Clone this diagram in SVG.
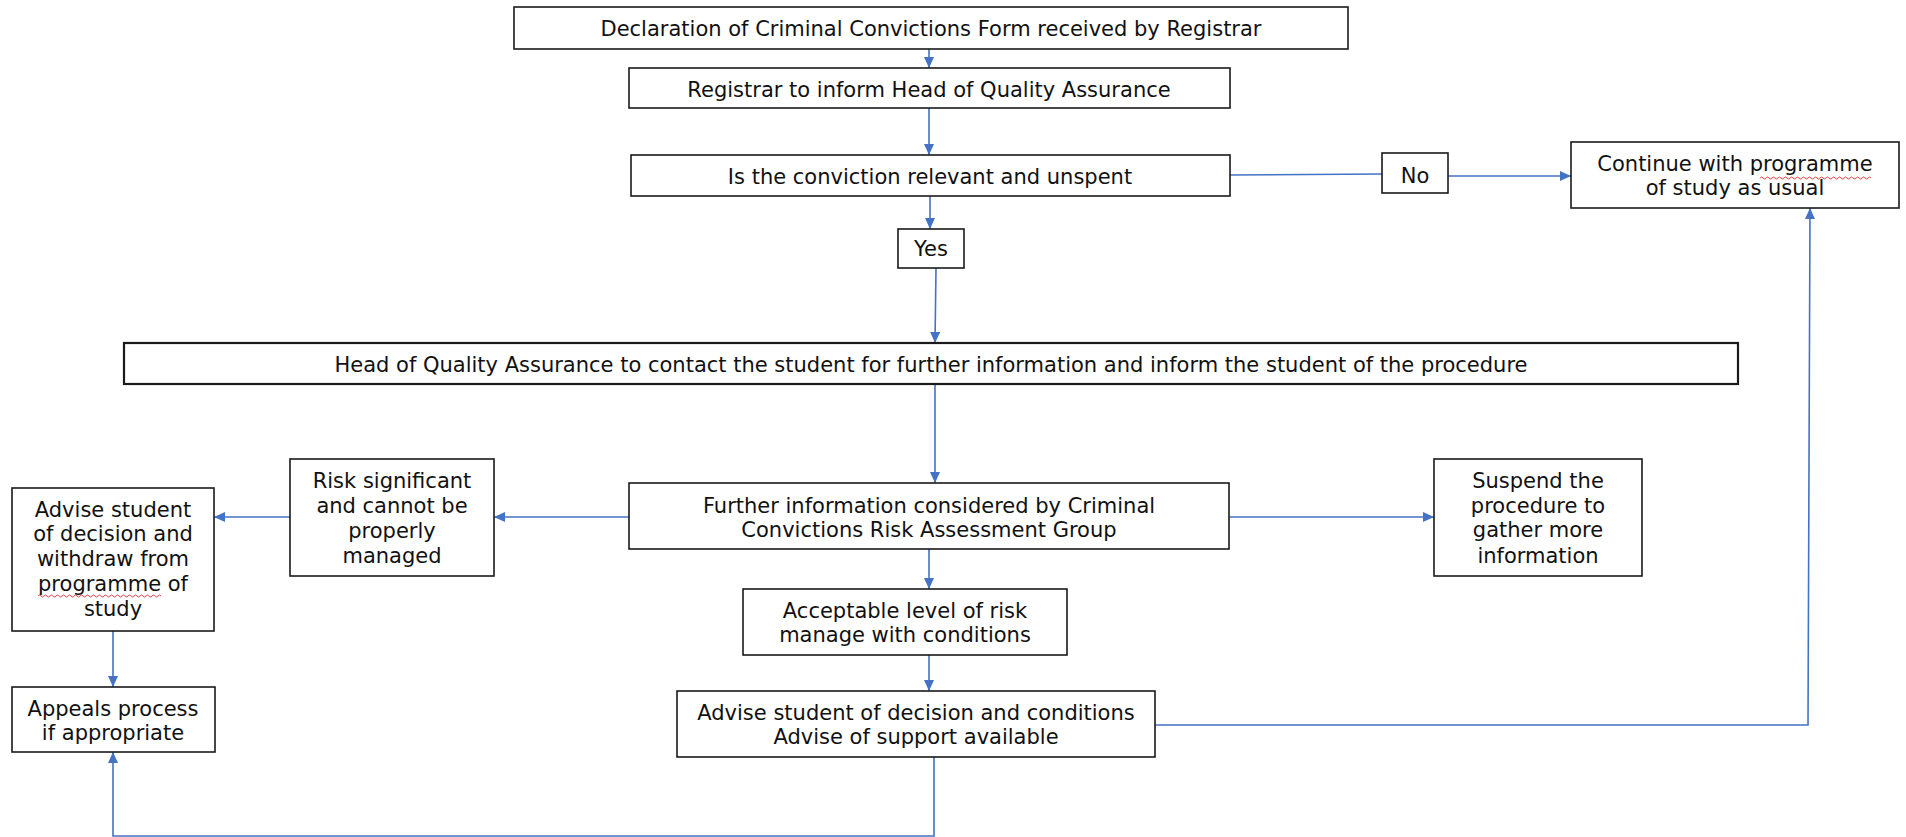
<svg xmlns="http://www.w3.org/2000/svg" width="1906" height="837" viewBox="0 0 1906 837">
<style>
.box{fill:#fff;stroke:#1a1a1a;stroke-width:1.6}
.t{font-family:"DejaVu Sans","Verdana",sans-serif;font-size:21px;fill:#111;text-anchor:middle}
.c{fill:none;stroke:#4472C4;stroke-width:1.6}
.sq{fill:none;stroke:#e03030;stroke-width:0.9}
</style>
<defs>
<marker id="ah" markerUnits="userSpaceOnUse" markerWidth="11" markerHeight="10" refX="11" refY="5" orient="auto">
<path d="M0,0 L11,5 L0,10 z" fill="#4472C4"/>
</marker>
</defs>
<rect width="1906" height="837" fill="#fff"/>
<g id="connectors">
<path class="c" d="M929,49 V68" marker-end="url(#ah)"/>
<path class="c" d="M929,108 V155" marker-end="url(#ah)"/>
<path class="c" d="M930,196 V229" marker-end="url(#ah)"/>
<path class="c" d="M1230,175 L1382,174"/>
<path class="c" d="M1448,176 H1571" marker-end="url(#ah)"/>
<path class="c" d="M936,268 L935,343" marker-end="url(#ah)"/>
<path class="c" d="M935,384 V483" marker-end="url(#ah)"/>
<path class="c" d="M629,517 H494" marker-end="url(#ah)"/>
<path class="c" d="M290,517 H214" marker-end="url(#ah)"/>
<path class="c" d="M1229,517 H1434" marker-end="url(#ah)"/>
<path class="c" d="M929,549 V589" marker-end="url(#ah)"/>
<path class="c" d="M929,655 V691" marker-end="url(#ah)"/>
<path class="c" d="M113,631 V687" marker-end="url(#ah)"/>
<path class="c" d="M1155,725 H1808 L1810,208" marker-end="url(#ah)"/>
<path class="c" d="M934,757 V836 H113 V752" marker-end="url(#ah)"/>
</g>
<g id="n1"><rect class="box" x="514" y="7" width="834" height="42"/><text class="t" x="931" y="35.5">Declaration of Criminal Convictions Form received by Registrar</text></g>
<g id="n2"><rect class="box" x="629" y="68" width="601" height="40"/><text class="t" x="929" y="96.5">Registrar to inform Head of Quality Assurance</text></g>
<g id="n3"><rect class="box" x="631" y="155" width="599" height="41"/><text class="t" x="930" y="183.5">Is the conviction relevant and unspent</text></g>
<g id="yes"><rect class="box" x="898" y="229" width="66" height="39"/><text class="t" x="931" y="255.5">Yes</text></g>
<g id="no"><rect class="box" x="1382" y="153" width="66" height="40"/><text class="t" x="1415" y="182.5">No</text></g>
<g id="n4"><rect class="box" x="1571" y="142" width="328" height="66"/><text class="t" x="1735" y="170.5">Continue with programme</text><text class="t" x="1735" y="194.5">of study as usual</text>
<path class="sq" d="M1760,178 q1.5,-2 3,0 t3,0 t3,0 t3,0 t3,0 t3,0 t3,0 t3,0 t3,0 t3,0 t3,0 t3,0 t3,0 t3,0 t3,0 t3,0 t3,0 t3,0 t3,0 t3,0 t3,0 t3,0 t3,0 t3,0 t3,0 t3,0 t3,0 t3,0 t3,0 t3,0 t3,0 t3,0 t3,0 t3,0 t3,0 t3,0 t3,0"/></g>
<g id="n5"><rect class="box" x="124" y="343" width="1614" height="41" style="stroke-width:2.2"/><text class="t" x="931" y="371.5">Head of Quality Assurance to contact the student for further information and inform the student of the procedure</text></g>
<g id="n6"><rect class="box" x="629" y="483" width="600" height="66"/><text class="t" x="929" y="512.5">Further information considered by Criminal</text><text class="t" x="929" y="536.5">Convictions Risk Assessment Group</text></g>
<g id="n7"><rect class="box" x="290" y="459" width="204" height="117"/><text class="t" x="392" y="487.5">Risk significant</text><text class="t" x="392" y="512.5">and cannot be</text><text class="t" x="392" y="537.5">properly</text><text class="t" x="392" y="562.5">managed</text></g>
<g id="n8"><rect class="box" x="12" y="488" width="202" height="143"/><text class="t" x="113" y="516.5">Advise student</text><text class="t" x="113" y="540.5">of decision and</text><text class="t" x="113" y="565.5">withdraw from</text><text class="t" x="113" y="590.5">programme of</text><text class="t" x="113" y="615.5">study</text>
<path class="sq" d="M38,596 q1.5,-2 3,0 t3,0 t3,0 t3,0 t3,0 t3,0 t3,0 t3,0 t3,0 t3,0 t3,0 t3,0 t3,0 t3,0 t3,0 t3,0 t3,0 t3,0 t3,0 t3,0 t3,0 t3,0 t3,0 t3,0 t3,0 t3,0 t3,0 t3,0 t3,0 t3,0 t3,0 t3,0 t3,0 t3,0 t3,0 t3,0 t3,0 t3,0 t3,0 t3,0 t3,0"/></g>
<g id="n9"><rect class="box" x="1434" y="459" width="208" height="117"/><text class="t" x="1538" y="487.5">Suspend the</text><text class="t" x="1538" y="512.5">procedure to</text><text class="t" x="1538" y="536.5">gather more</text><text class="t" x="1538" y="562.5">information</text></g>
<g id="n10"><rect class="box" x="743" y="589" width="324" height="66"/><text class="t" x="905" y="617.5">Acceptable level of risk</text><text class="t" x="905" y="641.5">manage with conditions</text></g>
<g id="n11"><rect class="box" x="677" y="691" width="478" height="66"/><text class="t" x="916" y="719.5">Advise student of decision and conditions</text><text class="t" x="916" y="743.5">Advise of support available</text></g>
<g id="n12"><rect class="box" x="12" y="687" width="203" height="65"/><text class="t" x="113" y="715.5">Appeals process</text><text class="t" x="113" y="739.5">if appropriate</text></g>
</svg>
